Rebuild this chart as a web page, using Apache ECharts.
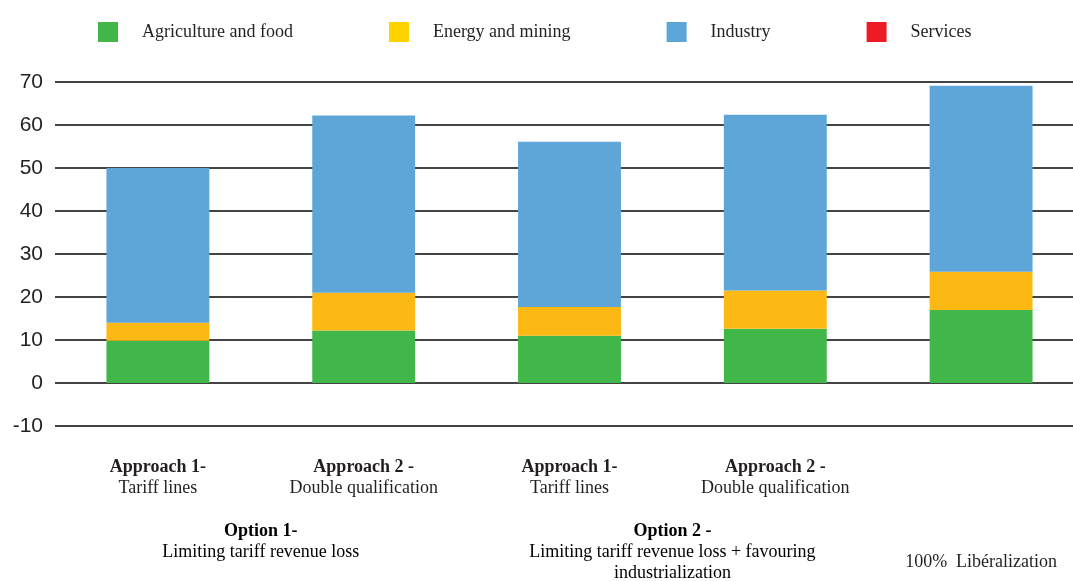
<!DOCTYPE html>
<html>
<head>
<meta charset="utf-8">
<script src="https://cdn.jsdelivr.net/npm/echarts@6/dist/echarts.min.js"></script>
<style>
html,body{margin:0;padding:0;background:#fff;}
#chart{width:1073px;height:581px;}
</style>
</head>
<body>
<div id="chart"></div>
<script>
// ---- data ----
const categories = ['A1', 'A2', 'B1', 'B2', 'LIB'];
const approachTitles = ['Approach 1-', 'Approach 2 -', 'Approach 1-', 'Approach 2 -', ''];
const approachSubs = ['Tariff lines', 'Double qualification', 'Tariff lines', 'Double qualification', '100%  Libéralization'];
const optionTitles = ['Option 1-', 'Option 2 -'];
const optionSubs = ['Limiting tariff revenue loss', 'Limiting tariff revenue loss + favouring\nindustrialization'];
const optionSpans = [[0, 1], [2, 3]];
const seriesNames = ['Agriculture and food', 'Energy and mining', 'Industry', 'Services'];
const agriculture = [9.8, 12.2, 11.0, 12.6, 17.0];
const energy = [4.2, 8.8, 6.7, 8.9, 8.9];
const industry = [36.0, 41.2, 38.4, 40.9, 43.2];
const services = [0, 0, 0, 0, 0];
const yTicks = { min: -10, max: 70, interval: 10 };

// ---- styles ----
const barColors = ['#41B649', '#FDB913', '#5EA5D8', '#ED1C24'];
const legendColors = ['#41B649', '#FFD200', '#5EA5D8', '#ED1C24'];
const serif = '"Liberation Serif", "Times New Roman", serif';
const textColor = '#231f20';

const chart = echarts.init(document.getElementById('chart'), null, { renderer: 'canvas' });
const values = [agriculture, energy, industry, services];

const option = {
  animation: false,
  backgroundColor: '#ffffff',
  grid: { left: 55, width: 1029, top: 82, bottom: 155, containLabel: false, outerBoundsMode: 'none' },
  legend: {
    left: 98, top: 22, padding: 0,
    icon: 'rect', itemWidth: 20, itemHeight: 20, itemGap: 96,
    textStyle: { fontFamily: serif, fontSize: 18, color: textColor, padding: [2, 0, 0, 19] },
    data: seriesNames.map((n, i) => ({ name: n, itemStyle: { color: legendColors[i] } }))
  },
  xAxis: {
    type: 'category',
    data: categories,
    axisLine: { show: false },
    axisTick: { show: false },
    axisLabel: {
      interval: 0,
      margin: 31,
      formatter: function (v, idx) {
        if (approachTitles[idx]) {
          return '{b|' + approachTitles[idx] + '}\n{n|' + approachSubs[idx] + '}';
        }
        return '{sp| }\n{n|' + approachSubs[idx] + '}';
      },
      rich: {
        b: { fontFamily: serif, fontWeight: 'bold', fontSize: 18, lineHeight: 21, color: textColor },
        n: { fontFamily: serif, fontSize: 18, lineHeight: 21, color: textColor },
        sp: { fontFamily: serif, fontSize: 10, lineHeight: 95 }
      }
    }
  },
  yAxis: {
    type: 'value',
    min: yTicks.min, max: yTicks.max, interval: yTicks.interval,
    axisLine: { show: false },
    axisTick: { show: false },
    axisLabel: { margin: 12, padding: [4, 0, 0, 0], fontFamily: '"Liberation Sans", Arial, sans-serif', fontSize: 21, color: textColor },
    splitLine: { lineStyle: { color: '#444', width: 2 } }
  },
  series: seriesNames.map((n, i) => ({
    name: n,
    type: 'bar',
    stack: 'total',
    barWidth: '50%',
    data: values[i],
    itemStyle: { color: barColors[i] }
  }))
};
chart.setOption(option);

// option group labels, centred between their categories using the axis scale
const graphics = optionTitles.map((t, k) => {
  const a = chart.convertToPixel({ xAxisIndex: 0 }, categories[optionSpans[k][0]]);
  const b = chart.convertToPixel({ xAxisIndex: 0 }, categories[optionSpans[k][1]]);
  const subLines = optionSubs[k].split('\n').map(s => '{n|' + s + '}').join('\n');
  return {
    type: 'text',
    x: (a + b) / 2,
    y: 521,
    style: {
      text: '{b|' + t + '}\n' + subLines,
      align: 'center',
      verticalAlign: 'top',
      rich: {
        b: { fontFamily: serif, fontWeight: 'bold', fontSize: 18, lineHeight: 21, color: textColor, align: 'center' },
        n: { fontFamily: serif, fontSize: 18, lineHeight: 21, color: textColor, align: 'center' }
      }
    }
  };
});
chart.setOption({ graphic: graphics });
</script>
</body>
</html>
